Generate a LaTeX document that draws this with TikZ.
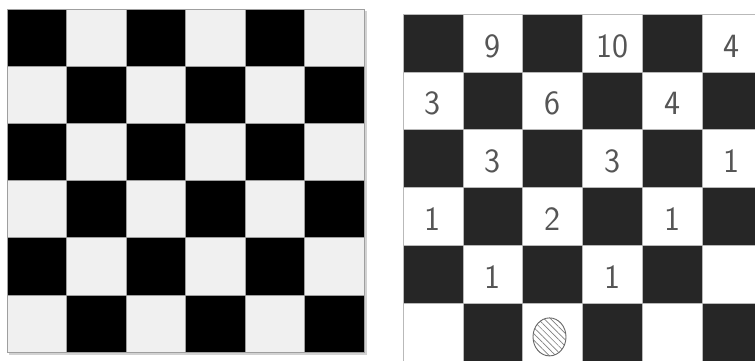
\documentclass[tikz,border=0pt]{standalone}
\usepackage{tikz}
\usetikzlibrary{patterns.meta,shapes.geometric,positioning}
\definecolor{paper}{HTML}{F0F0F0}
\definecolor{ink}{HTML}{262626}
\definecolor{pencil}{HTML}{555555}
\tikzset{
  lsq/.style={draw=gray!75, line width=0.8pt, minimum width=59.5pt,
              minimum height=57.2pt, inner sep=0pt, outer sep=0pt},
  lwhite/.style={lsq, fill=paper},
  lblack/.style={lsq, fill=black},
  rsq/.style={draw=gray!55, line width=0.6pt, minimum width=59.8pt,
              minimum height=57.8pt, inner sep=0pt, outer sep=0pt},
  rwhite/.style={rsq, fill=white},
  rblack/.style={rsq, fill=ink},
  digit/.style={font=\fontsize{34}{34}\selectfont\sffamily, text=pencil, inner sep=0pt},
  piece/.style={ellipse, draw=gray!80!black, line width=0.9pt, minimum width=33pt,
                minimum height=38pt, inner sep=0pt,
                pattern={Lines[angle=-45,distance=4.5pt,line width=0.7pt]}, pattern color=gray}
}
\begin{document}
\begin{tikzpicture}[x=1pt,y=-1pt]
  \clip (0,0) rectangle (755,360);
  \fill[white] (0,0) rectangle (755,360);
  % plain board
  \fill[gray!35] (9,11) rectangle (367,355);
  \foreach \r in {0,...,5}
    \foreach \c in {0,...,5}{
      \pgfmathparse{int(mod(\r+\c,2))}
      \ifnum\pgfmathresult=0
        \node[lblack] (L-\r-\c) at ({7+59.5*(\c+0.5)},{9+57.2*(\r+0.5)}) {};
      \else
        \node[lwhite] (L-\r-\c) at ({7+59.5*(\c+0.5)},{9+57.2*(\r+0.5)}) {};
      \fi
    }
  % counted board
  \foreach \r in {0,...,5}
    \foreach \c in {0,...,5}{
      \pgfmathparse{int(mod(\r+\c,2))}
      \ifnum\pgfmathresult=0
        \node[rblack] (R-\r-\c) at ({403+59.8*(\c+0.5)},{14+57.8*(\r+0.5)}) {};
      \else
        \node[rwhite] (R-\r-\c) at ({403+59.8*(\c+0.5)},{14+57.8*(\r+0.5)}) {};
      \fi
    }
  \foreach \r/\c/\n in {0/1/9, 0/3/10, 0/5/4, 1/0/3, 1/2/6, 1/4/4,
                        2/1/3, 2/3/3, 2/5/1, 3/0/1, 3/2/2, 3/4/1, 4/1/1, 4/3/1}
    \node[digit] (n-\r-\c) at ([yshift=-3pt]R-\r-\c) {\n};
  \node[piece] (piece) at ([xshift=-3pt,yshift=-5pt]R-5-2) {};
\end{tikzpicture}
\end{document}
